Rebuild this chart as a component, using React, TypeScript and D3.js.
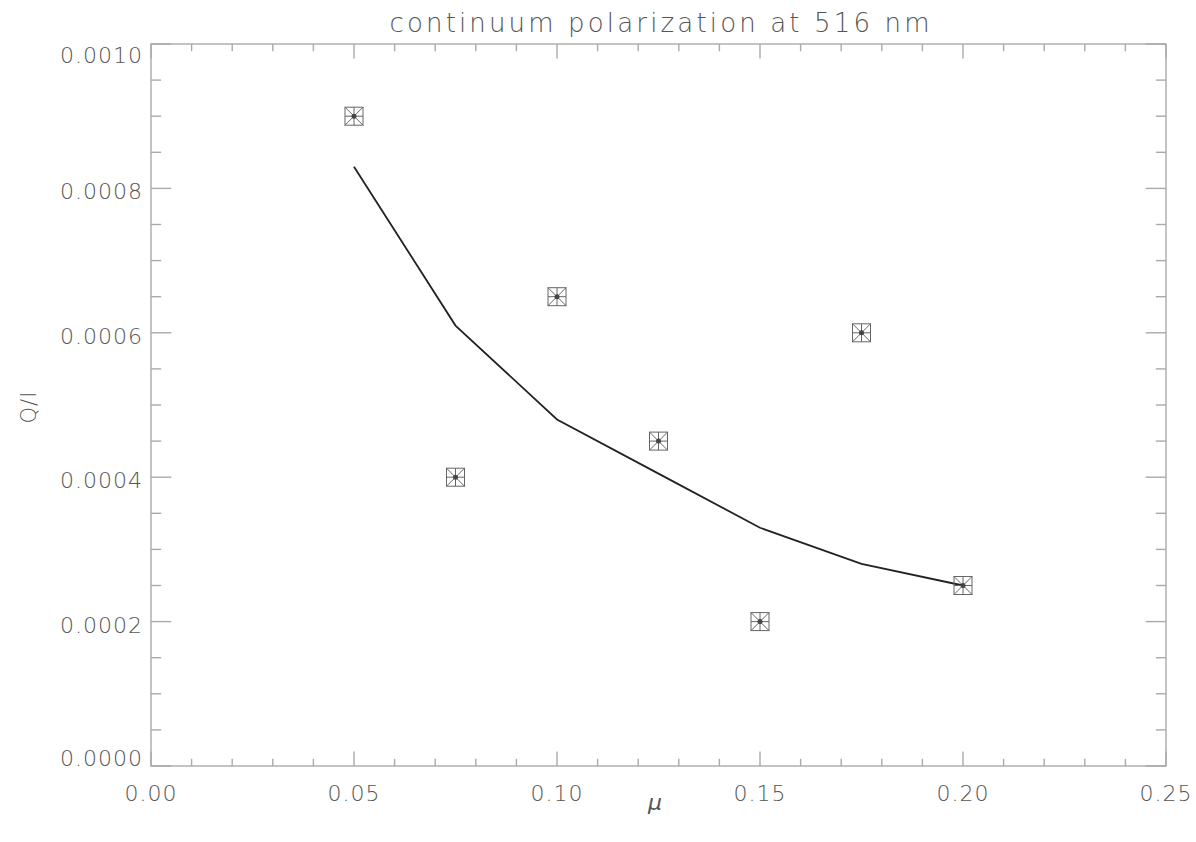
import React from "react";
import * as d3 from "d3";

// Viewing angle mu and the continuum Q/I values
const muValues = [0.05, 0.075, 0.1, 0.125, 0.15, 0.175, 0.2];
const observedQI = [0.0009, 0.0004, 0.00065, 0.00045, 0.0002, 0.0006, 0.00025];
const modelQI = [0.00083, 0.00061, 0.00048, 0.000405, 0.00033, 0.00028, 0.00025];

const xMajorTicks = [0, 0.05, 0.1, 0.15, 0.2, 0.25];
const xTickLabels = ["0.00", "0.05", "0.10", "0.15", "0.20", "0.25"];
const yMajorTicks = [0, 0.0002, 0.0004, 0.0006, 0.0008, 0.001];
const yTickLabels = ["0.0000", "0.0002", "0.0004", "0.0006", "0.0008", "0.0010"];
const xMinorStep = 0.01;
const yMinorStep = 0.00005;

const titleText = "continuum polarization at 516 nm";
const xTitle = "\u03bc";
const yTitle = "Q/I";

const W = 1196;
const H = 842;
const plot = { left: 151, right: 1166, top: 44, bottom: 766 };

const AXIS = "#aaa";
const TEXT = "#555";
const FONT = "'DejaVu Sans', sans-serif";

export default function App() {
  const x = d3.scaleLinear().domain([0, 0.25]).range([plot.left, plot.right]);
  const y = d3.scaleLinear().domain([0, 0.001]).range([plot.bottom, plot.top]);

  const pw = plot.right - plot.left;
  const ph = plot.bottom - plot.top;
  const xMajLen = ph * 0.02;
  const yMajLen = pw * 0.02;

  const xMinor = d3.range(0, 0.25 + 1e-9, xMinorStep).filter(
    (v) => !xMajorTicks.some((m) => Math.abs(m - v) < 1e-9)
  );
  const yMinor = d3.range(0, 0.001 + 1e-12, yMinorStep).filter(
    (v) => !yMajorTicks.some((m) => Math.abs(m - v) < 1e-12)
  );

  const line = d3
    .line<number>()
    .x((_, i) => x(muValues[i]))
    .y((d) => y(d));

  const ticks: React.ReactNode[] = [];
  const addX = (v: number, len: number, key: string) => {
    const px = x(v);
    ticks.push(<line key={key + "b"} x1={px} x2={px} y1={plot.bottom} y2={plot.bottom - len} />);
    ticks.push(<line key={key + "t"} x1={px} x2={px} y1={plot.top} y2={plot.top + len} />);
  };
  const addY = (v: number, len: number, key: string) => {
    const py = y(v);
    ticks.push(<line key={key + "l"} x1={plot.left} x2={plot.left + len} y1={py} y2={py} />);
    ticks.push(<line key={key + "r"} x1={plot.right} x2={plot.right - len} y1={py} y2={py} />);
  };
  xMajorTicks.forEach((v, i) => addX(v, xMajLen, "xM" + i));
  xMinor.forEach((v, i) => addX(v, xMajLen / 2, "xm" + i));
  yMajorTicks.forEach((v, i) => addY(v, yMajLen, "yM" + i));
  yMinor.forEach((v, i) => addY(v, yMajLen / 2, "ym" + i));

  const ms = 9; // half size of the boxed asterisk marker

  return (
    <svg
      width={W}
      height={H}
      style={{ position: "fixed", left: 0, top: 0, background: "#fff" }}
    >
      <rect x={0} y={0} width={W} height={H} fill="#fff" />
      <text
        x={(plot.left + plot.right) / 2 + 1}
        y={32}
        textAnchor="middle"
        fontFamily={FONT}
        fontWeight={200}
        fontSize={26}
        fill={TEXT}
        textLength={540}
        lengthAdjust="spacing"
      >
        {titleText}
      </text>

      <g stroke={AXIS} strokeWidth={1.4}>
        <rect
          x={plot.left}
          y={plot.top}
          width={pw}
          height={ph}
          fill="none"
        />
        {ticks}
      </g>

      <g fontFamily={FONT} fontWeight={200} fontSize={22} fill={TEXT}>
        {xMajorTicks.map((v, i) => (
          <text key={"xl" + i} x={x(v)} y={801} textAnchor="middle" letterSpacing={1}>
            {xTickLabels[i]}
          </text>
        ))}
        {yMajorTicks.map((v, i) => {
          const cy = Math.min(Math.max(y(v) + 3, plot.top + 11), plot.bottom - 8);
          return (
            <text
              key={"yl" + i}
              x={143}
              y={cy + 8}
              textAnchor="end"
              letterSpacing={1}
            >
              {yTickLabels[i]}
            </text>
          );
        })}
        <text x={655} y={810} textAnchor="middle" fontStyle="italic" fontSize={22}>
          {xTitle}
        </text>
        <text
          transform={`translate(36,407) rotate(-90)`}
          textAnchor="middle"
          fontSize={21}
          letterSpacing={1}
        >
          {yTitle}
        </text>
      </g>

      <path d={line(modelQI) ?? ""} fill="none" stroke="#222" strokeWidth={1.8} />

      <g stroke="#666" strokeWidth={1} fill="none">
        {observedQI.map((v, i) => {
          const cx = x(muValues[i]);
          const cy = y(v);
          return (
            <g key={"p" + i}>
              <rect x={cx - ms} y={cy - ms} width={ms * 2} height={ms * 2} />
              <line x1={cx - ms} y1={cy - ms} x2={cx + ms} y2={cy + ms} />
              <line x1={cx - ms} y1={cy + ms} x2={cx + ms} y2={cy - ms} />
              <line x1={cx} y1={cy - ms} x2={cx} y2={cy + ms} />
              <line x1={cx - ms} y1={cy} x2={cx + ms} y2={cy} />
              <circle cx={cx} cy={cy} r={2.5} fill="#444" stroke="none" />
            </g>
          );
        })}
      </g>
    </svg>
  );
}
